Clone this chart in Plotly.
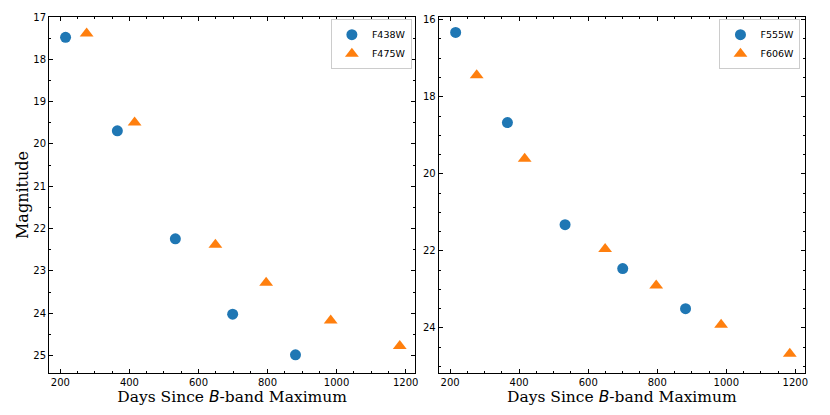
import plotly.graph_objects as go
from plotly.subplots import make_subplots

# left panel: F438W / F475W
days_f438w = [215, 365, 533, 699, 881]
mag_f438w = [17.48, 19.69, 22.24, 24.02, 24.98]
days_f475w = [276, 415, 649, 796, 983, 1183]
mag_f475w = [17.39, 19.49, 22.38, 23.28, 24.17, 24.77]

# right panel: F555W / F606W
days_f555w = [216, 366, 533, 700, 882]
mag_f555w = [16.33, 18.67, 21.32, 22.46, 23.50]
days_f606w = [277, 416, 649, 797, 985, 1184]
mag_f606w = [17.44, 19.61, 21.95, 22.90, 23.92, 24.67]

azul = '#1f77b4'
laranja = '#ff7f0e'

fig = make_subplots(rows=1, cols=2, horizontal_spacing=0.031)

fig.add_trace(go.Scatter(x=days_f438w, y=mag_f438w, mode='markers', name='F438W',
                         marker=dict(symbol='circle', size=11, color=azul),
                         legend='legend'), row=1, col=1)
fig.add_trace(go.Scatter(x=days_f475w, y=mag_f475w, mode='markers', name='F475W',
                         marker=dict(symbol='triangle-up', size=12, color=laranja),
                         legend='legend'), row=1, col=1)
fig.add_trace(go.Scatter(x=days_f555w, y=mag_f555w, mode='markers', name='F555W',
                         marker=dict(symbol='circle', size=11, color=azul),
                         legend='legend2'), row=1, col=2)
fig.add_trace(go.Scatter(x=days_f606w, y=mag_f606w, mode='markers', name='F606W',
                         marker=dict(symbol='triangle-up', size=12, color=laranja),
                         legend='legend2'), row=1, col=2)

eixo = dict(showline=True, linecolor='black', linewidth=1, mirror='allticks',
            ticks='inside', ticklen=4, tickwidth=1, tickcolor='black',
            showgrid=False, zeroline=False, automargin=False,
            tickfont=dict(family='DejaVu Sans', size=10, color='black'))

xtitle = ('Days Since <span style="font-family:DejaVu Sans"><i>B</i></span>-band Maximum')

for c in (1, 2):
    fig.update_xaxes(eixo, range=[167, 1228], dtick=200, tick0=0,
                     minor=dict(dtick=50, ticks='inside', ticklen=2, tickcolor='black'),
                     title=dict(text=xtitle, standoff=0,
                                font=dict(family='DejaVu Serif', size=15.5, color='black')),
                     row=1, col=c)

fig.update_yaxes(eixo, range=[25.41, 17.0], dtick=1, tick0=0,
                 minor=dict(dtick=0.5, ticks='inside', ticklen=2, tickcolor='black'),
                 title=dict(text='Magnitude', standoff=0,
                            font=dict(family='DejaVu Serif', size=16, color='black')),
                 row=1, col=1)
fig.update_yaxes(eixo, range=[25.17, 15.93], dtick=2, tick0=0,
                 minor=dict(dtick=0.5, ticks='inside', ticklen=2, tickcolor='black'),
                 row=1, col=2)

leg = dict(xanchor='right', yanchor='top', bgcolor='white',
           bordercolor='#cccccc', borderwidth=1,
           font=dict(family='DejaVu Sans', size=9.5, color='black'),
           tracegroupgap=0, itemwidth=30)

# a pagina tem margem de 8px no body, por isso a figura fica menor
fig.update_layout(
    width=822, height=407,
    margin=dict(l=41, r=25, t=9, b=42),
    plot_bgcolor='white', paper_bgcolor='white',
    legend=dict(leg, x=0.48, y=0.994),
    legend2=dict(leg, x=0.994, y=0.994),
)

fig.write_html('out.html')
